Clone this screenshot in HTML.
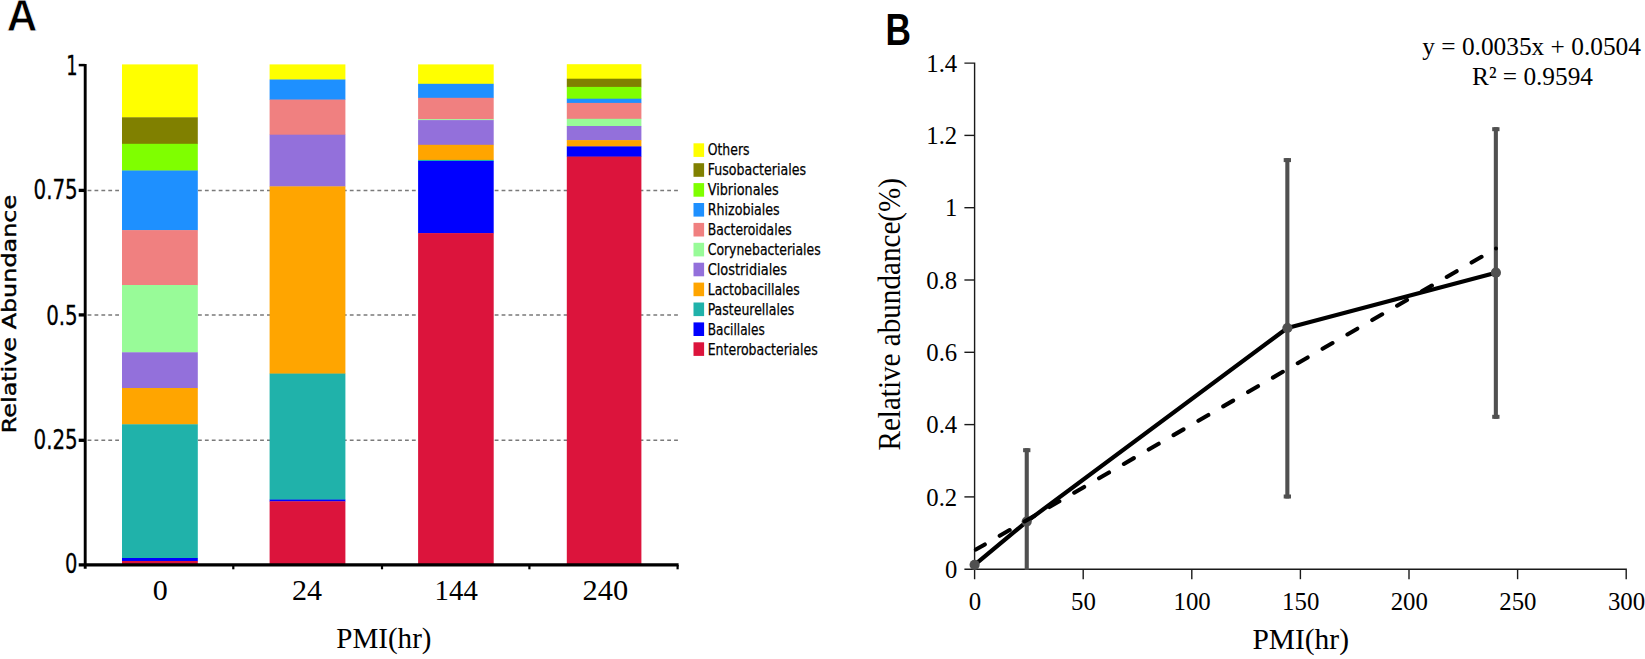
<!DOCTYPE html>
<html lang="en"><head><meta charset="utf-8"><title>Figure</title>
<style>html,body{margin:0;padding:0;background:#fff}svg{display:block}.se{font-family:"Liberation Serif","DejaVu Serif",serif}.sa{font-family:"Liberation Sans","DejaVu Sans",sans-serif}.dc{font-family:"DejaVu Sans Condensed","DejaVu Sans","Liberation Sans",sans-serif}.dv{font-family:"DejaVu Sans","Liberation Sans",sans-serif}</style></head><body>
<svg width="1645" height="659" viewBox="0 0 1645 659">
<rect width="1645" height="659" fill="#fff"/>
<line x1="87.6" y1="190.4" x2="680" y2="190.4" stroke="#7a7a7a" stroke-width="1.5" stroke-dasharray="3.8 3.1"/>
<line x1="87.6" y1="314.9" x2="680" y2="314.9" stroke="#7a7a7a" stroke-width="1.5" stroke-dasharray="3.8 3.1"/>
<line x1="87.6" y1="440.3" x2="680" y2="440.3" stroke="#7a7a7a" stroke-width="1.5" stroke-dasharray="3.8 3.1"/>
<rect x="122.0" y="64.4" width="75.8" height="53.2" fill="#ffff00"/>
<rect x="122.0" y="117.3" width="75.8" height="26.8" fill="#808000"/>
<rect x="122.0" y="143.8" width="75.8" height="27.0" fill="#7fff00"/>
<rect x="122.0" y="170.5" width="75.8" height="59.9" fill="#1e90ff"/>
<rect x="122.0" y="230.1" width="75.8" height="55.2" fill="#f08080"/>
<rect x="122.0" y="285.0" width="75.8" height="67.6" fill="#98fb98"/>
<rect x="122.0" y="352.3" width="75.8" height="36.0" fill="#9370db"/>
<rect x="122.0" y="388.0" width="75.8" height="36.6" fill="#ffa500"/>
<rect x="122.0" y="424.3" width="75.8" height="134.0" fill="#20b2aa"/>
<rect x="122.0" y="558.0" width="75.8" height="3.3" fill="#0000ff"/>
<rect x="122.0" y="561.0" width="75.8" height="3.8" fill="#dc143c"/>
<rect x="269.6" y="64.4" width="75.8" height="15.4" fill="#ffff00"/>
<rect x="269.6" y="79.5" width="75.8" height="20.4" fill="#1e90ff"/>
<rect x="269.6" y="99.6" width="75.8" height="35.4" fill="#f08080"/>
<rect x="269.6" y="134.7" width="75.8" height="52.0" fill="#9370db"/>
<rect x="269.6" y="186.4" width="75.8" height="187.5" fill="#ffa500"/>
<rect x="269.6" y="373.6" width="75.8" height="126.3" fill="#20b2aa"/>
<rect x="269.6" y="499.6" width="75.8" height="2.0" fill="#0000ff"/>
<rect x="269.6" y="501.3" width="75.8" height="63.5" fill="#dc143c"/>
<rect x="418.1" y="64.4" width="75.6" height="19.7" fill="#ffff00"/>
<rect x="418.1" y="83.8" width="75.6" height="14.3" fill="#1e90ff"/>
<rect x="418.1" y="97.8" width="75.6" height="21.7" fill="#f08080"/>
<rect x="418.1" y="119.2" width="75.6" height="1.2" fill="#98fb98"/>
<rect x="418.1" y="120.1" width="75.6" height="25.0" fill="#9370db"/>
<rect x="418.1" y="144.8" width="75.6" height="15.4" fill="#ffa500"/>
<rect x="418.1" y="159.9" width="75.6" height="1.4" fill="#20b2aa"/>
<rect x="418.1" y="161.0" width="75.6" height="72.4" fill="#0000ff"/>
<rect x="418.1" y="233.1" width="75.6" height="331.7" fill="#dc143c"/>
<rect x="566.8" y="64.2" width="74.6" height="14.8" fill="#ffff00"/>
<rect x="566.8" y="78.7" width="74.6" height="8.5" fill="#808000"/>
<rect x="566.8" y="86.9" width="74.6" height="12.1" fill="#7fff00"/>
<rect x="566.8" y="98.7" width="74.6" height="4.5" fill="#1e90ff"/>
<rect x="566.8" y="102.9" width="74.6" height="16.2" fill="#f08080"/>
<rect x="566.8" y="118.8" width="74.6" height="7.5" fill="#98fb98"/>
<rect x="566.8" y="126.0" width="74.6" height="14.4" fill="#9370db"/>
<rect x="566.8" y="140.1" width="74.6" height="6.6" fill="#ffa500"/>
<rect x="566.8" y="146.4" width="74.6" height="10.5" fill="#0000ff"/>
<rect x="566.8" y="156.6" width="74.6" height="408.2" fill="#dc143c"/>
<g stroke="#000" fill="none">
<path d="M85.2 63.9V568.8" stroke-width="2.9"/>
<path d="M78.7 564.8H678.6" stroke-width="3.2"/>
<path d="M78.7 65.1H84.8" stroke-width="2.5"/>
<line x1="78.7" y1="190.4" x2="85" y2="190.4" stroke-width="3.3"/>
<line x1="78.7" y1="314.9" x2="85" y2="314.9" stroke-width="3.3"/>
<line x1="78.7" y1="440.3" x2="85" y2="440.3" stroke-width="3.3"/>
<line x1="233.3" y1="565" x2="233.3" y2="569.3" stroke-width="2.2"/>
<line x1="382.0" y1="565" x2="382.0" y2="569.3" stroke-width="2.2"/>
<line x1="529.4" y1="565" x2="529.4" y2="569.3" stroke-width="2.2"/>
<line x1="677.6" y1="565" x2="677.6" y2="569.3" stroke-width="2.2"/>
</g>
<text class="dc" x="77.6" y="74.7" font-size="26.6" text-anchor="end" textLength="11.3" lengthAdjust="spacingAndGlyphs" stroke="#000" stroke-width="0.3">1</text>
<text class="dc" x="77.7" y="199.4" font-size="26.6" text-anchor="end" textLength="44.2" lengthAdjust="spacingAndGlyphs" stroke="#000" stroke-width="0.3">0.75</text>
<text class="dc" x="77.7" y="324.6" font-size="26.6" text-anchor="end" textLength="31.5" lengthAdjust="spacingAndGlyphs" stroke="#000" stroke-width="0.3">0.5</text>
<text class="dc" x="77.7" y="448.7" font-size="26.6" text-anchor="end" textLength="44.2" lengthAdjust="spacingAndGlyphs" stroke="#000" stroke-width="0.3">0.25</text>
<text class="dc" x="77.4" y="572.7" font-size="26.6" text-anchor="end" textLength="12.4" lengthAdjust="spacingAndGlyphs" stroke="#000" stroke-width="0.3">0</text>
<text class="dv" transform="translate(16.2 433.2) rotate(-90)" font-size="20" textLength="238.3" lengthAdjust="spacingAndGlyphs" stroke="#000" stroke-width="0.4">Relative Abundance</text>
<text class="se" x="160.3" y="600.4" font-size="30" text-anchor="middle" textLength="15" lengthAdjust="spacingAndGlyphs">0</text>
<text class="se" x="307.0" y="600.4" font-size="30" text-anchor="middle" textLength="30" lengthAdjust="spacingAndGlyphs">24</text>
<text class="se" x="456.2" y="600.4" font-size="30" text-anchor="middle" textLength="43.2" lengthAdjust="spacingAndGlyphs">144</text>
<text class="se" x="605.3" y="600.4" font-size="30" text-anchor="middle" textLength="45.6" lengthAdjust="spacingAndGlyphs">240</text>
<text class="se" x="383.9" y="648.2" font-size="30" text-anchor="middle" textLength="95.2" lengthAdjust="spacingAndGlyphs">PMI(hr)</text>
<text class="sa" x="6.4" y="30.8" font-size="44.3" font-weight="bold" textLength="31" lengthAdjust="spacingAndGlyphs" stroke="#fff" stroke-width="0.8">A</text>
<rect x="693.5" y="143.3" width="10.6" height="13.6" fill="#ffff00"/>
<text class="dc" x="707.7" y="154.80" font-size="16.6" textLength="41.8" lengthAdjust="spacingAndGlyphs" stroke="#000" stroke-width="0.25">Others</text>
<rect x="693.5" y="163.2" width="10.6" height="13.6" fill="#808000"/>
<text class="dc" x="707.7" y="174.85" font-size="16.6" textLength="98.3" lengthAdjust="spacingAndGlyphs" stroke="#000" stroke-width="0.25">Fusobacteriales</text>
<rect x="693.5" y="183.1" width="10.6" height="13.6" fill="#7fff00"/>
<text class="dc" x="707.7" y="194.90" font-size="16.6" textLength="71" lengthAdjust="spacingAndGlyphs" stroke="#000" stroke-width="0.25">Vibrionales</text>
<rect x="693.5" y="203.0" width="10.6" height="13.6" fill="#1e90ff"/>
<text class="dc" x="707.7" y="214.95" font-size="16.6" textLength="72" lengthAdjust="spacingAndGlyphs" stroke="#000" stroke-width="0.25">Rhizobiales</text>
<rect x="693.5" y="222.9" width="10.6" height="13.6" fill="#f08080"/>
<text class="dc" x="707.7" y="235.00" font-size="16.6" textLength="84" lengthAdjust="spacingAndGlyphs" stroke="#000" stroke-width="0.25">Bacteroidales</text>
<rect x="693.5" y="242.8" width="10.6" height="13.6" fill="#98fb98"/>
<text class="dc" x="707.7" y="255.05" font-size="16.6" textLength="113" lengthAdjust="spacingAndGlyphs" stroke="#000" stroke-width="0.25">Corynebacteriales</text>
<rect x="693.5" y="262.7" width="10.6" height="13.6" fill="#9370db"/>
<text class="dc" x="707.7" y="275.10" font-size="16.6" textLength="79.3" lengthAdjust="spacingAndGlyphs" stroke="#000" stroke-width="0.25">Clostridiales</text>
<rect x="693.5" y="282.6" width="10.6" height="13.6" fill="#ffa500"/>
<text class="dc" x="707.7" y="295.15" font-size="16.6" textLength="92" lengthAdjust="spacingAndGlyphs" stroke="#000" stroke-width="0.25">Lactobacillales</text>
<rect x="693.5" y="302.5" width="10.6" height="13.6" fill="#20b2aa"/>
<text class="dc" x="707.7" y="315.20" font-size="16.6" textLength="86.5" lengthAdjust="spacingAndGlyphs" stroke="#000" stroke-width="0.25">Pasteurellales</text>
<rect x="693.5" y="322.4" width="10.6" height="13.6" fill="#0000ff"/>
<text class="dc" x="707.7" y="335.25" font-size="16.6" textLength="57" lengthAdjust="spacingAndGlyphs" stroke="#000" stroke-width="0.25">Bacillales</text>
<rect x="693.5" y="342.3" width="10.6" height="13.6" fill="#dc143c"/>
<text class="dc" x="707.7" y="355.30" font-size="16.6" textLength="110" lengthAdjust="spacingAndGlyphs" stroke="#000" stroke-width="0.25">Enterobacteriales</text>
<g stroke="#1a1a1a" stroke-width="1.4" fill="none">
<path d="M964.4 63.1H974.6V579.2"/>
<path d="M964.4 569.2H1626.2V579.2"/>
<line x1="964.4" y1="496.9" x2="974.6" y2="496.9"/>
<line x1="964.4" y1="424.6" x2="974.6" y2="424.6"/>
<line x1="964.4" y1="352.3" x2="974.6" y2="352.3"/>
<line x1="964.4" y1="280.0" x2="974.6" y2="280.0"/>
<line x1="964.4" y1="207.7" x2="974.6" y2="207.7"/>
<line x1="964.4" y1="135.4" x2="974.6" y2="135.4"/>
<line x1="1083.2" y1="569.2" x2="1083.2" y2="579.2"/>
<line x1="1191.8" y1="569.2" x2="1191.8" y2="579.2"/>
<line x1="1300.4" y1="569.2" x2="1300.4" y2="579.2"/>
<line x1="1409.0" y1="569.2" x2="1409.0" y2="579.2"/>
<line x1="1517.6" y1="569.2" x2="1517.6" y2="579.2"/>
</g>
<text class="se" x="957.2" y="577.9" font-size="26" text-anchor="end" textLength="12.3" lengthAdjust="spacingAndGlyphs">0</text>
<text class="se" x="957.2" y="505.6" font-size="26" text-anchor="end" textLength="30.9" lengthAdjust="spacingAndGlyphs">0.2</text>
<text class="se" x="957.2" y="433.3" font-size="26" text-anchor="end" textLength="30.9" lengthAdjust="spacingAndGlyphs">0.4</text>
<text class="se" x="957.2" y="361.0" font-size="26" text-anchor="end" textLength="30.9" lengthAdjust="spacingAndGlyphs">0.6</text>
<text class="se" x="957.2" y="288.7" font-size="26" text-anchor="end" textLength="30.9" lengthAdjust="spacingAndGlyphs">0.8</text>
<text class="se" x="957.2" y="216.4" font-size="26" text-anchor="end" textLength="12.3" lengthAdjust="spacingAndGlyphs">1</text>
<text class="se" x="957.2" y="144.1" font-size="26" text-anchor="end" textLength="30.9" lengthAdjust="spacingAndGlyphs">1.2</text>
<text class="se" x="957.2" y="71.8" font-size="26" text-anchor="end" textLength="30.9" lengthAdjust="spacingAndGlyphs">1.4</text>
<text class="se" x="974.9" y="609.8" font-size="26" text-anchor="middle" textLength="12.4" lengthAdjust="spacingAndGlyphs">0</text>
<text class="se" x="1083.5" y="609.8" font-size="26" text-anchor="middle" textLength="24.8" lengthAdjust="spacingAndGlyphs">50</text>
<text class="se" x="1192.1" y="609.8" font-size="26" text-anchor="middle" textLength="37.2" lengthAdjust="spacingAndGlyphs">100</text>
<text class="se" x="1300.7" y="609.8" font-size="26" text-anchor="middle" textLength="37.2" lengthAdjust="spacingAndGlyphs">150</text>
<text class="se" x="1409.3" y="609.8" font-size="26" text-anchor="middle" textLength="37.2" lengthAdjust="spacingAndGlyphs">200</text>
<text class="se" x="1517.9" y="609.8" font-size="26" text-anchor="middle" textLength="37.2" lengthAdjust="spacingAndGlyphs">250</text>
<text class="se" x="1626.5" y="609.8" font-size="26" text-anchor="middle" textLength="37.2" lengthAdjust="spacingAndGlyphs">300</text>
<text class="se" x="1300.7" y="648.5" font-size="30" text-anchor="middle" textLength="96.6" lengthAdjust="spacingAndGlyphs">PMI(hr)</text>
<text class="se" transform="translate(899.7 450.5) rotate(-90)" font-size="30.7" textLength="272.5" lengthAdjust="spacingAndGlyphs">Relative abundance(%)</text>
<text class="se" x="1531.6" y="54.6" font-size="26" text-anchor="middle" textLength="218.6" lengthAdjust="spacingAndGlyphs">y = 0.0035x + 0.0504</text>
<text class="se" x="1532.5" y="85.1" font-size="26" text-anchor="middle" textLength="121" lengthAdjust="spacingAndGlyphs">R² = 0.9594</text>
<text class="sa" x="885.4" y="45.1" font-size="43.7" font-weight="bold" textLength="25.5" lengthAdjust="spacingAndGlyphs">B</text>
<path d="M974.6 564.8 L1026.7 521.6 L1287.4 328.0 L1495.9 272.7" stroke="#000" stroke-width="4.2" fill="none" stroke-linejoin="round" stroke-linecap="round"/>
<rect x="1024.7" y="448.2" width="4.1" height="121.6" fill="#505050"/>
<rect x="1023.1" y="448.2" width="7.3" height="4" fill="#505050"/>
<rect x="1285.3" y="158.1" width="4.1" height="340.4" fill="#505050"/>
<rect x="1283.7" y="158.1" width="7.3" height="4" fill="#505050"/>
<rect x="1283.7" y="494.5" width="7.3" height="4" fill="#505050"/>
<rect x="1493.8" y="127.2" width="4.1" height="291.6" fill="#505050"/>
<rect x="1492.2" y="127.2" width="7.3" height="4" fill="#505050"/>
<rect x="1492.2" y="414.8" width="7.3" height="4" fill="#505050"/>
<circle cx="974.6" cy="564.8" r="5.1" fill="#505050"/>
<circle cx="1026.7" cy="521.6" r="5.1" fill="#505050"/>
<circle cx="1287.4" cy="328.0" r="5.1" fill="#505050"/>
<circle cx="1495.9" cy="272.7" r="5.1" fill="#505050"/>
<path d="M975.9 549.6L1496 248.4" stroke="#000" stroke-width="4.1" fill="none" stroke-linecap="round" stroke-dasharray="11.5 17.2" stroke-dashoffset="1.2"/>
<circle cx="1496" cy="248.4" r="2" fill="#000"/>
</svg></body></html>
